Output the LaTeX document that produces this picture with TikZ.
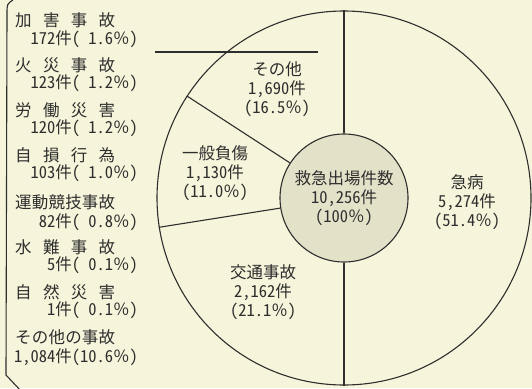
\documentclass[tikz,border=0pt]{standalone}
\usepackage{fontspec}
\setmainfont{Noto Sans CJK JP}[CharacterWidth=Half]
\newfontfamily\widefont{Noto Sans CJK JP}
\newcommand{\pct}{{\widefont ％}}
\definecolor{paper}{HTML}{F6F4DA}
\definecolor{hub}{HTML}{E4E1C9}
\definecolor{ink}{HTML}{2E2E2E}
\begin{document}
\begin{tikzpicture}[x=1pt,y=-1pt,
  every node/.style={text=ink,font=\fontsize{16.5}{19}\selectfont,inner sep=0pt},
  rim/.style={draw=ink,line width=1.1pt},
  kind/.style={anchor=west},
  count/.style={anchor=east},
  slice/.style={align=center}]
	\fill[paper] (0,0) rectangle (532,388);
	\useasboundingbox (0,0) rectangle (532,388);
	% pie
	\node[circle,rim,minimum size=374pt] (pie) at (344,198) {};
	\node[circle,rim,fill=hub,minimum size=128pt,align=center] (total) at (344,198) {救急出場件数\\10,256件\\(100\pct)};
	\draw[rim] (total.90) -- (pie.90);
	\draw[rim] (total.270) -- (pie.270);
	\draw[rim] (total.147.6) -- (pie.147.6);
	\draw[rim] (total.189.5) -- (pie.189.5);
	\node[slice] (sonota) at (277,89) {その他\\1,690件\\(16.5\pct)};
	\node[slice] (fusho) at (215,173) {一般負傷\\1,130件\\(11.0\pct)};
	\node[slice] (kyubyo) at (467,202) {急病\\5,274件\\(51.4\pct)};
	\node[slice] (kotsu) at (263,292) {交通事故\\2,162件\\(21.1\pct)};
	% legend
	\draw[rim] (13,0) .. controls (7,4) .. (7,14) -- (6,375) -- (22,392);
	\coordinate (lead-l) at (155,52);
	\coordinate (lead-r) at (318,52);
	\draw[rim] (lead-l) -- (lead-r);
	\node[kind] (kagai) at (15,20) {\makebox[100pt][s]{加\hfill 害\hfill 事\hfill 故}};
	\node[count] (kagai-n) at (138,39) {172件(\hphantom{0}1.6\pct)};
	\node[kind] (kasai) at (15,65) {\makebox[100pt][s]{火\hfill 災\hfill 事\hfill 故}};
	\node[count] (kasai-n) at (138,83) {123件(\hphantom{0}1.2\pct)};
	\node[kind] (rodo) at (15,110) {\makebox[100pt][s]{労\hfill 働\hfill 災\hfill 害}};
	\node[count] (rodo-n) at (138,128) {120件(\hphantom{0}1.2\pct)};
	\node[kind] (jison) at (15,155) {\makebox[100pt][s]{自\hfill 損\hfill 行\hfill 為}};
	\node[count] (jison-n) at (138,173) {103件(\hphantom{0}1.0\pct)};
	\node[kind] (undo) at (15,202) {\makebox[100pt][s]{運\hfill 動\hfill 競\hfill 技\hfill 事\hfill 故}};
	\node[count] (undo-n) at (138,222) {82件(\hphantom{0}0.8\pct)};
	\node[kind] (suinan) at (15,247) {\makebox[100pt][s]{水\hfill 難\hfill 事\hfill 故}};
	\node[count] (suinan-n) at (138,265) {5件(\hphantom{0}0.1\pct)};
	\node[kind] (shizen) at (15,292) {\makebox[100pt][s]{自\hfill 然\hfill 災\hfill 害}};
	\node[count] (shizen-n) at (138,310) {1件(\hphantom{0}0.1\pct)};
	\node[kind] (hoka) at (15,337) {\makebox[100pt][s]{そ\hfill の\hfill 他\hfill の\hfill 事\hfill 故}};
	\node[count] (hoka-n) at (138,357) {1,084件(10.6\pct)};
\end{tikzpicture}
\end{document}
